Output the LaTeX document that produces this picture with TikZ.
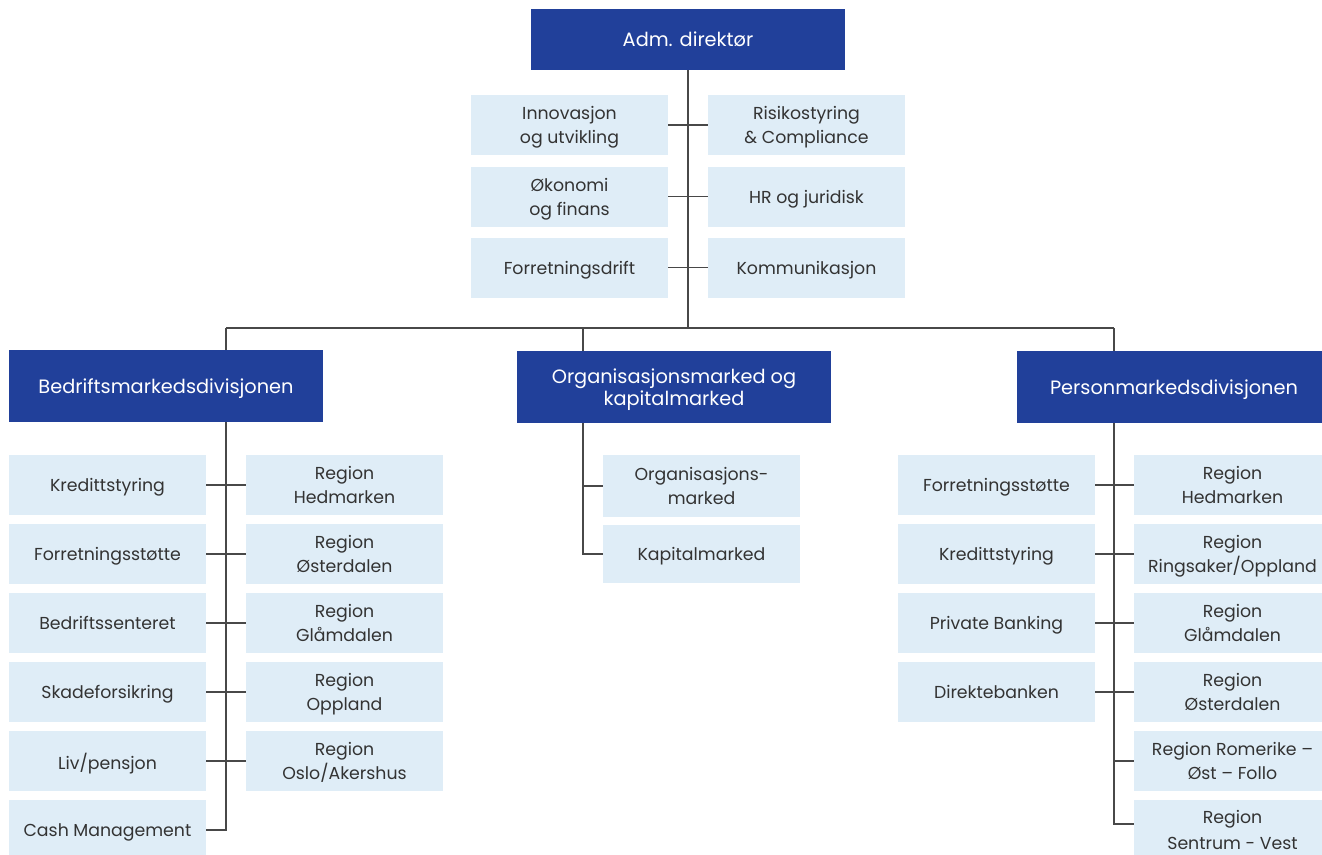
\documentclass[tikz,border=0pt]{standalone}
\usepackage{fontspec}
\setmainfont{Poppins}
\usetikzlibrary{backgrounds}
\definecolor{dblue}{HTML}{21409A}
\definecolor{lblue}{HTML}{DFEDF7}
\definecolor{lgray}{HTML}{484848}
\definecolor{tgray}{HTML}{333333}
\begin{document}
\begin{tikzpicture}[x=0.75pt,y=-0.75pt,
 head/.style={fill=dblue, text=white, minimum width=235.5pt, minimum height=54pt, inner sep=0pt, align=center, text depth=0pt, font=\fontsize{14.5}{16}\selectfont},
 unit/.style={fill=lblue, text=tgray, minimum width=147.75pt, minimum height=45pt, inner sep=0pt, align=center, text depth=0pt, font=\fontsize{13}{18}\selectfont},
 link/.style={draw=lgray, line width=1.3pt}]
\useasboundingbox (0,0) rectangle (1322,854);
% top
\node[head, minimum height=45.75pt] (adm) at (688,39.5) {Adm. direktør};
\node[unit] (s1) at (569.5,125) {Innovasjon\\og utvikling};
\node[unit] (s2) at (569.5,196.5) {Økonomi\\og finans};
\node[unit] (s3) at (569.5,267.5) {Forretningsdrift};
\node[unit] (t1) at (806.5,124.5) {Risikostyring\\\& Compliance};
\node[unit] (t2) at (806.5,196.5) {HR og juridisk};
\node[unit] (t3) at (806.5,267.5) {Kommunikasjon};
% divisions
\node[head] (bed) at (166,386) {Bedriftsmarkedsdivisjonen};
\node[head] (org) at (674,387) {Organisasjonsmarked og\\kapitalmarked};
\node[head] (per) at (1174,387) {Personmarkedsdivisjonen};
% bedrift children
\node[unit] (b1) at (107.5,485) {Kredittstyring};
\node[unit] (b2) at (107.5,554) {Forretningsstøtte};
\node[unit] (b3) at (107.5,623) {Bedriftssenteret};
\node[unit] (b4) at (107.5,692) {Skadeforsikring};
\node[unit] (b5) at (107.5,761) {Liv/pensjon};
\node[unit] (b6) at (107.5,830) {Cash Management};
\node[unit] (c1) at (344.5,485) {Region\\Hedmarken};
\node[unit] (c2) at (344.5,554) {Region\\Østerdalen};
\node[unit] (c3) at (344.5,623) {Region\\Glåmdalen};
\node[unit] (c4) at (344.5,692) {Region\\Oppland};
\node[unit] (c5) at (344.5,761) {Region\\Oslo/Akershus};
% org children
\node[unit, minimum height=46.5pt] (o1) at (701.5,486) {Organisasjons-\\marked};
\node[unit, minimum height=43.5pt] (o2) at (701.5,554) {Kapitalmarked};
% person children
\node[unit] (p1) at (996.5,485) {Forretningsstøtte};
\node[unit] (p2) at (996.5,554) {Kredittstyring};
\node[unit] (p3) at (996.5,623) {Private Banking};
\node[unit] (p4) at (996.5,692) {Direktebanken};
\node[unit] (q1) at (1232.5,485) {Region\\Hedmarken};
\node[unit] (q2) at (1232.5,554) {Region\\Ringsaker/Oppland};
\node[unit] (q3) at (1232.5,623) {Region\\Glåmdalen};
\node[unit] (q4) at (1232.5,692) {Region\\Østerdalen};
\node[unit] (q5) at (1232.5,761) {Region Romerike –\\Øst – Follo};
\node[unit, font=\fontsize{13}{19.5}\selectfont] (q6) at (1232.5,830) {Region\\Sentrum - Vest};
\coordinate (hub) at (688,328);
\coordinate (busL) at (226,328);
\coordinate (busM) at (583,328);
\coordinate (busR) at (1114,328);
\coordinate (q6c) at ([yshift=4.5pt]q6.west);
\begin{scope}[on background layer]
\draw[link] (adm.south) -- (hub);
\draw[link] (s1.east) -- (t1.west |- s1.east);
\draw[link] (s2.east) -- (t2.west);
\draw[link] (s3.east) -- (t3.west);
\draw[link] (busL) -- (busR);
% bedrift
\draw[link] (busL) -- (busL |- b6.east) -- (b6.east);
\draw[link] (b1.east) -- (c1.west);
\draw[link] (b2.east) -- (c2.west);
\draw[link] (b3.east) -- (c3.west);
\draw[link] (b4.east) -- (c4.west);
\draw[link] (b5.east) -- (c5.west);
% org
\draw[link] (busM) -- (busM |- o2.west) -- (o2.west);
\draw[link] (busM |- o1.west) -- (o1.west);
% person
\draw[link] (busR) -- (busR |- q6c) -- (q6c);
\draw[link] (p1.east) -- (q1.west);
\draw[link] (p2.east) -- (q2.west);
\draw[link] (p3.east) -- (q3.west);
\draw[link] (p4.east) -- (q4.west);
\draw[link] (busR |- q5.west) -- (q5.west);
\end{scope}
\end{tikzpicture}
\end{document}
